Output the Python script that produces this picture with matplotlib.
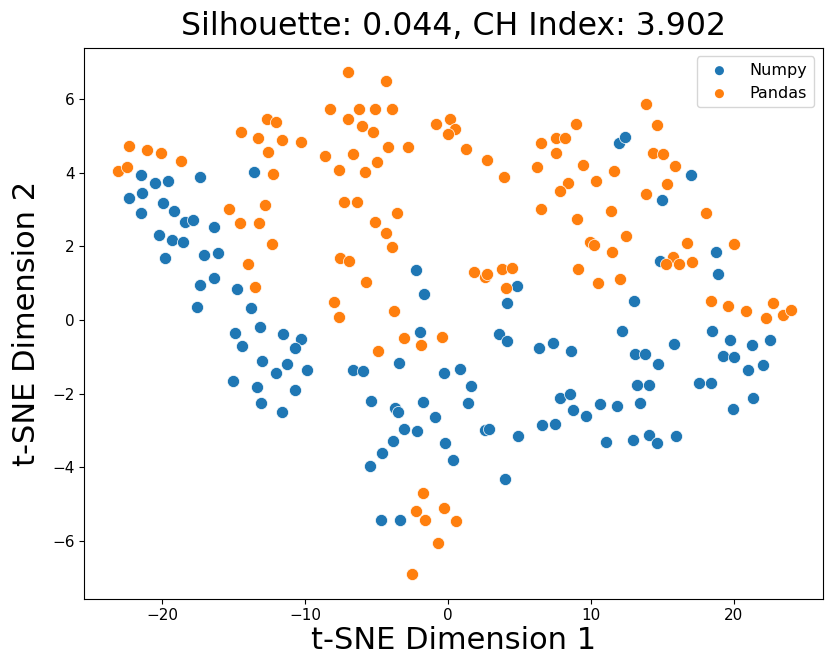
import matplotlib
matplotlib.use("Agg")
import matplotlib.pyplot as plt
import numpy as np

numpy_x = [-21.52, -20.49, -19.60, -17.36, -13.62, -22.36, -21.42, -19.95, -21.47, -19.18,
           -18.44, -17.88, -16.41, -20.23, -19.32, -18.55, -19.84, -17.11, -16.13, -16.38,
           -17.34, -14.78, -17.60, -13.83, -14.92, -13.17, -11.56, -10.33, -14.41, -10.75,
           -13.03, -11.26, -12.05, -9.86, -15.03, -13.38, -10.75, -13.08, -11.66, -2.26,
           -1.70, 4.80, 4.10, -1.96, 3.55, 4.15, 6.34, -3.41, -6.69, -5.99,
           -0.26, 0.82, 1.63, -5.38, -1.73, 1.42, -3.71, -3.48, -0.91, -3.08,
           -2.17, 2.59, 2.85, 6.57, 4.92, -3.87, -0.19, -4.62, -5.45, 0.37,
           3.97, -4.71, -3.36, 11.98, 12.36, 16.97, 14.97, 14.83, 18.72, 18.90,
           13.03, 12.15, 18.44, 7.32, 8.60, 13.10, 13.76, 15.83, 19.72, 21.24,
           22.52, 14.69, 19.21, 20.02, 20.98, 22.05, 13.20, 14.08, 17.55, 18.37,
           7.83, 8.51, 8.76, 9.65, 10.63, 11.82, 13.45, 21.31, 19.95, 7.48,
           11.05, 12.92, 14.08, 14.62, 15.94]
numpy_y = [3.94, 3.71, 3.77, 3.90, 4.03, 3.32, 3.45, 3.19, 2.91, 2.96,
           2.66, 2.71, 2.53, 2.31, 2.17, 2.11, 1.69, 1.76, 1.83, 1.15,
           0.94, 0.85, 0.35, 0.32, -0.35, -0.18, -0.38, -0.51, -0.71, -0.75,
           -1.11, -1.20, -1.44, -1.36, -1.66, -1.82, -1.91, -2.26, -2.50, 1.36,
           0.71, 0.92, 0.47, -0.33, -0.38, -0.58, -0.76, -1.18, -1.36, -1.39,
           -1.44, -1.34, -1.79, -2.21, -2.24, -2.26, -2.40, -2.51, -2.64, -2.96,
           -3.02, -2.99, -2.97, -2.85, -3.16, -3.29, -3.33, -3.61, -3.97, -3.81,
           -4.31, -5.43, -5.42, 4.82, 4.96, 3.94, 3.25, 1.61, 1.86, 1.24,
           0.51, -0.29, -0.30, -0.62, -0.85, -0.92, -0.93, -0.65, -0.54, -0.68,
           -0.54, -1.20, -0.98, -1.01, -1.35, -1.22, -1.76, -1.76, -1.72, -1.72,
           -2.11, -2.00, -2.44, -2.62, -2.28, -2.33, -2.26, -2.11, -2.42, -2.83,
           -3.32, -3.27, -3.13, -3.34, -3.16]

pandas_x = [-12.71, -12.05, -14.52, -13.29, -11.61, -10.28, -22.36, -21.07, -20.12, -18.67,
            -12.59, -8.62, -23.10, -22.47, -12.26, -15.34, -12.80, -14.55, -13.24, -12.31,
            -14.01, -13.55, -7.01, -4.38, -8.27, -6.27, -5.13, -3.90, -6.99, -6.01,
            -5.27, -6.69, -4.22, -2.82, -4.99, -7.64, -5.83, -0.86, 0.12, 0.47,
            0.02, 1.26, 2.73, 3.94, 6.52, 6.20, 6.52, -7.32, -6.36, -3.57,
            -5.10, -4.34, -3.90, -7.55, -6.92, -5.73, -7.97, -7.67, -3.76, 1.82,
            2.61, 2.75, 3.78, 4.45, 4.03, -3.10, -1.89, -0.42, -4.92, -1.73,
            -2.24, -1.59, -0.30, 0.54, -0.72, -2.54, 13.87, 8.97, 14.62, 7.55,
            8.20, 7.55, 14.34, 15.06, 9.46, 11.59, 15.87, 8.41, 7.81, 10.37,
            15.31, 13.85, 9.04, 11.42, 18.06, 9.95, 10.21, 12.45, 11.49, 16.73,
            20.00, 9.11, 10.47, 12.03, 15.71, 15.27, 16.13, 17.04, 18.39, 19.58,
            20.84, 22.75, 22.22, 23.45, 23.97]
pandas_y = [5.46, 5.39, 5.12, 4.95, 4.89, 4.83, 4.74, 4.62, 4.53, 4.31,
            4.56, 4.46, 4.04, 4.15, 3.96, 3.02, 3.12, 2.64, 2.63, 2.07,
            1.51, 0.90, 6.73, 6.50, 5.73, 5.73, 5.73, 5.73, 5.46, 5.28,
            5.12, 4.50, 4.69, 4.69, 4.29, 4.08, 4.02, 5.33, 5.46, 5.20,
            5.06, 4.65, 4.36, 3.88, 4.80, 4.16, 3.02, 3.20, 3.20, 2.90,
            2.67, 2.36, 1.98, 1.68, 1.61, 1.04, 0.50, 0.08, 0.24, 1.30,
            1.17, 1.24, 1.40, 1.41, 0.88, -0.50, -0.68, -0.47, -0.84, -4.69,
            -5.19, -5.42, -5.10, -5.46, -6.05, -6.89, 5.87, 5.33, 5.29, 4.95,
            4.95, 4.54, 4.53, 4.51, 4.20, 4.04, 4.18, 3.71, 3.50, 3.77,
            3.70, 3.42, 2.74, 2.96, 2.90, 2.12, 2.04, 2.29, 1.86, 2.08,
            2.07, 1.40, 1.00, 1.11, 1.72, 1.53, 1.52, 1.58, 0.52, 0.38,
            0.25, 0.45, 0.06, 0.15, 0.26]

labels = ["Numpy", "Pandas"]
title = "Silhouette: 0.044, CH Index: 3.902"

fig = plt.figure(figsize=(8.3, 6.55), dpi=100)
ax = fig.add_axes([0.1016, 0.0860, 0.8896, 0.8412])

ax.scatter(numpy_x, numpy_y, s=76, color="#1f77b4", edgecolor="white", linewidth=0.5, label=labels[0])
ax.scatter(pandas_x, pandas_y, s=76, color="#ff7f0e", edgecolor="white", linewidth=0.5, label=labels[1])

ax.set_xlim(-25.46, 26.21)
ax.set_ylim(-7.57, 7.40)
ax.set_xticks([-20, -10, 0, 10, 20])
ax.set_yticks([-6, -4, -2, 0, 2, 4, 6])
ax.tick_params(labelsize=11)

ax.set_title(title, fontsize=22.7, pad=9)
ax.set_xlabel("t-SNE Dimension 1", fontsize=22, labelpad=2)
ax.set_ylabel("t-SNE Dimension 2", fontsize=22, labelpad=8)
leg = ax.legend(loc="upper right", fontsize=11.5, markerscale=0.75, handletextpad=0.9,
                borderaxespad=0.55)
for h in leg.legend_handles:
    h.set_edgecolor("none")

fig.savefig("out.png", dpi=100)
